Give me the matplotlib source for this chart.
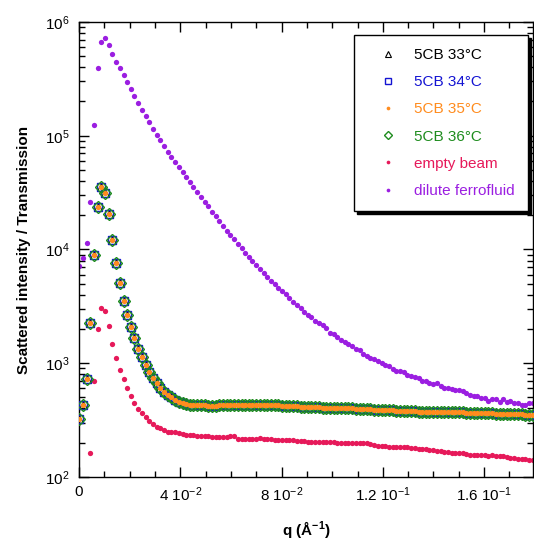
import matplotlib
matplotlib.use("Agg")
import matplotlib.pyplot as plt
import numpy as np
from matplotlib.ticker import MultipleLocator, LogLocator, NullFormatter

plt.rcParams['font.family'] = ['Liberation Sans', 'DejaVu Sans']
plt.rcParams['mathtext.fontset'] = 'custom'
plt.rcParams['mathtext.rm'] = 'Liberation Sans'
plt.rcParams['mathtext.it'] = 'Liberation Sans:italic'
plt.rcParams['mathtext.bf'] = 'Liberation Sans:bold'

# q grid (1/Angstrom), shared by all curves
q = [0.0001, 0.0016, 0.0030, 0.0045, 0.0059, 0.0074, 0.0088, 0.0103, 0.0117, 0.0132,
     0.0147, 0.0161, 0.0176, 0.0190, 0.0205, 0.0219, 0.0234, 0.0249, 0.0263, 0.0278,
     0.0292, 0.0307, 0.0321, 0.0336, 0.0350, 0.0365, 0.0380, 0.0394, 0.0409, 0.0423,
     0.0438, 0.0452, 0.0467, 0.0481, 0.0496, 0.0511, 0.0525, 0.0540, 0.0554, 0.0569,
     0.0583, 0.0598, 0.0613, 0.0627, 0.0642, 0.0656, 0.0671, 0.0685, 0.0700, 0.0714,
     0.0729, 0.0744, 0.0758, 0.0773, 0.0787, 0.0802, 0.0816, 0.0831, 0.0846, 0.0860,
     0.0875, 0.0889, 0.0904, 0.0918, 0.0933, 0.0947, 0.0962, 0.0977, 0.0991, 0.1006,
     0.1020, 0.1035, 0.1049, 0.1064, 0.1078, 0.1093, 0.1108, 0.1122, 0.1137, 0.1151,
     0.1166, 0.1180, 0.1195, 0.1209, 0.1224, 0.1239, 0.1253, 0.1268, 0.1282, 0.1297,
     0.1311, 0.1326, 0.1341, 0.1355, 0.1370, 0.1384, 0.1399, 0.1413, 0.1428, 0.1442,
     0.1457, 0.1472, 0.1486, 0.1501, 0.1515, 0.1530, 0.1544, 0.1559, 0.1573, 0.1588,
     0.1603, 0.1617, 0.1632, 0.1646, 0.1661, 0.1675, 0.1690, 0.1704, 0.1719, 0.1734,
     0.1748, 0.1763, 0.1777, 0.1792]

# 5CB at 33-36 C (curves overlap within marker size)
i_5cb = [324, 428, 724, 2250, 8930, 23600, 35200, 31300, 20400, 12100,
         7590, 5060, 3520, 2650, 2080, 1660, 1330, 1130, 962, 835,
         735, 664, 608, 557, 528, 500, 473, 455, 443, 436,
         430, 427, 426, 425, 425, 424, 424, 424, 425, 425,
         425, 426, 427, 427, 428, 429, 430, 430, 430, 431,
         430, 430, 429, 428, 426, 424, 422, 420, 418, 417,
         416, 414, 413, 412, 411, 409, 408, 407, 406, 405,
         404, 403, 402, 401, 400, 399, 398, 396, 394, 392,
         390, 389, 388, 387, 386, 385, 384, 383, 382, 381,
         380, 378, 376, 375, 375, 374, 374, 373, 373, 372,
         371, 371, 370, 370, 369, 368, 367, 366, 365, 364,
         363, 362, 362, 361, 360, 359, 358, 357, 356, 356,
         355, 354, 354, 353]
i_33 = i_5cb
i_34 = i_5cb
i_35 = i_5cb
i_36 = i_5cb

nan = float('nan')
i_empty = [nan, nan, nan, 161, 696, 1995, 3050, 2870, 2120, 1470,
           1110, 869, 720, 608, 517, 448, 395, 364, 336, 310,
           290, 277, 270, 258, 249, 247, 247, 243, 239, 236,
           235, 232, 228, 228, 227, 227, 226, 226, 225, 224,
           224, 227, 228, 217, 217, 217, 216, 215, 215, 218,
           215, 214, 214, 212, 212, 211, 211, 210, 210, 208,
           207, 206, 205, 205, 205, 205, 203, 203, 202, 202,
           200, 200, 199, 199, 197, 199, 199, 197, 197, 193,
           192, 189, 187, 186, 184, 184, 184, 183, 183, 182,
           179, 178, 177, 176, 175, 173, 171, 169, 168, 166,
           166, 164, 163, 162, 161, 159, 157, 155, 155, 155,
           155, 154, 155, 154, 153, 152, 150, 148, 146, 145,
           144, 143, 142, 142]

i_ferro = [7140, 8400, 11380, 26100, 124200, 394000, 667000, 723000, 628000, 523000,
           445000, 394000, 344000, 299000, 259000, 223000, 193000, 169000, 149000, 131000,
           114500, 102000, 92200, 81700, 71900, 65000, 58700, 53400, 48200, 43600,
           39400, 35600, 32000, 29100, 26300, 23900, 21500, 19800, 17900, 16200,
           14600, 13390, 12270, 11230, 10230, 9300, 8580, 7910, 7250, 6680,
           6200, 5750, 5305, 4930, 4550, 4280, 4030, 3740, 3450, 3220,
           3050, 2815, 2665, 2545, 2332, 2240, 2150, 2036, 1851, 1792,
           1707, 1606, 1524, 1463, 1422, 1330, 1300, 1215, 1160, 1120,
           1080, 1043, 1008, 962, 937, 893, 858, 847, 840, 786,
           770, 759, 735, 700, 692, 664, 659, 668, 625, 604,
           600, 588, 583, 583, 572, 549, 524, 514, 514, 496,
           493, 467, 486, 480, 452, 483, 458, 467, 443, 443,
           428, 431, 446, 446]

labels = ['5CB 33°C', '5CB 34°C', '5CB 35°C', '5CB 36°C', 'empty beam', 'dilute ferrofluid']
colors = ['black', '#1414d2', '#ff8c1e', '#1e8c1e', '#e6195a', '#9b1ee1']

fig = plt.figure(figsize=(5.34, 5.44), dpi=100)
ax = fig.add_axes([0.1479, 0.1232, 0.8502, 0.8364])

ax.plot(q, i_33, ls='none', marker='^', ms=5.5, mfc='none', mec=colors[0], mew=0.8, label=labels[0], zorder=3)
ax.plot(q, i_34, ls='none', marker='s', ms=6, mfc='none', mec=colors[1], mew=1, label=labels[1], zorder=4)
ax.plot(q, i_35, ls='none', marker='o', ms=3.8, mfc=colors[2], mec=colors[2], mew=0, label=labels[2], zorder=6)
ax.plot(q, i_36, ls='none', marker='D', ms=6, mfc='none', mec=colors[3], mew=1, label=labels[3], zorder=5)
ax.plot(q, i_empty, ls='none', marker='o', ms=3.8, mfc=colors[4], mec=colors[4], mew=0, label=labels[4], zorder=2)
ax.plot(q, i_ferro, ls='none', marker='o', ms=3.8, mfc=colors[5], mec=colors[5], mew=0, label=labels[5], zorder=2)

ax.set_yscale('log')
ax.set_ylim(100, 1e6)
ax.set_xlim(0, 0.1793)

ax.set_xticks([0, 0.04, 0.08, 0.12, 0.16])
ax.set_xticklabels(['0', r'4 10$^{-2}$', r'8 10$^{-2}$', r'1.2 10$^{-1}$', r'1.6 10$^{-1}$'])
ax.xaxis.set_minor_locator(MultipleLocator(0.01))
ax.yaxis.set_minor_locator(LogLocator(base=10, subs=np.arange(2, 10)))
ax.yaxis.set_minor_formatter(NullFormatter())

ax.tick_params(which='both', direction='in', top=True, right=True, labelsize=11)
ax.tick_params(axis='x', pad=6)
ax.tick_params(axis='y', pad=7)
ax.tick_params(which='major', length=7, width=1)
ax.tick_params(which='minor', length=4, width=1)
for s in ax.spines.values():
    s.set_linewidth(1)

ax.set_xlabel(r'q (Å$^{\mathbf{-1}}$)', fontsize=11, fontweight='bold', labelpad=11)
ax.set_ylabel('Scattered intensity / Transmission', fontsize=11, fontweight='bold', labelpad=10)

leg = ax.legend(loc='upper right', bbox_to_anchor=(0.989, 0.971), borderaxespad=0,
                fontsize=11, frameon=True, fancybox=False, edgecolor='black', framealpha=1,
                shadow={'color': 'black', 'alpha': 1}, labelcolor=colors,
                handletextpad=0.33, labelspacing=0.86, borderpad=0.85, handlelength=2.75,
                markerscale=0.7)
leg.get_frame().set_linewidth(1)

fig.savefig('out.png', dpi=100)
